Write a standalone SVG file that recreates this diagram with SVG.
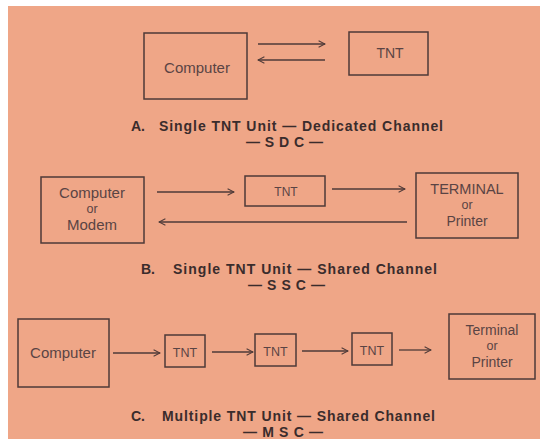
<svg xmlns="http://www.w3.org/2000/svg" width="540" height="439" viewBox="0 0 540 439">
<style>
.box{fill:none;stroke:#4e3a38;stroke-width:1.5}
.t{font-family:"Liberation Sans",Arial,sans-serif;font-size:15px;fill:#5a4444;text-anchor:middle}
.cap{font-family:"Liberation Sans",Arial,sans-serif;font-size:14px;font-weight:bold;fill:#3a2c2c}
.c{fill:none;stroke:#4e3a38;stroke-width:1.3}
</style>
<defs>
<marker id="ah" viewBox="0 0 10 10" refX="9" refY="5" markerWidth="8" markerHeight="8" markerUnits="userSpaceOnUse" orient="auto">
<path d="M1,1 L9,5 L1,9" fill="none" stroke="#4e3a38" stroke-width="1.3"/>
</marker>
</defs>
<rect x="0" y="0" width="540" height="439" fill="#ffffff"/>
<rect x="8" y="6" width="532" height="433" fill="#efa687"/>

<g id="a-computer"><rect class="box" x="144" y="33" width="103" height="66"/><text class="t" x="197" y="73">Computer</text></g>
<g id="a-tnt"><rect class="box" x="349" y="32" width="79" height="43"/><text class="t" x="390" y="58" style="font-size:14px">TNT</text></g>

<g id="b-computer"><rect class="box" x="41" y="177" width="103" height="66"/><text class="t" x="92" y="198">Computer</text><text class="t" x="92" y="213" style="font-size:12.5px">or</text><text class="t" x="92" y="230">Modem</text></g>
<g id="b-tnt"><rect class="box" x="245" y="176" width="80" height="30"/><text class="t" x="286" y="196" style="font-size:12px">TNT</text></g>
<g id="b-terminal"><rect class="box" x="416" y="173" width="102" height="65"/><text class="t" x="467" y="194" style="font-size:14.5px">TERMINAL</text><text class="t" x="467" y="209" style="font-size:12.5px">or</text><text class="t" x="467" y="226" style="font-size:14px">Printer</text></g>

<g id="c-computer"><rect class="box" x="18" y="319" width="91" height="68"/><text class="t" x="63" y="358">Computer</text></g>
<g id="c-tnt1"><rect class="box" x="165" y="335" width="40" height="32"/><text class="t" x="185" y="357" style="font-size:12.5px">TNT</text></g>
<g id="c-tnt2"><rect class="box" x="255" y="334" width="41" height="32"/><text class="t" x="275.5" y="356" style="font-size:12.5px">TNT</text></g>
<g id="c-tnt3"><rect class="box" x="352" y="333" width="40" height="32"/><text class="t" x="372" y="355" style="font-size:12.5px">TNT</text></g>
<g id="c-terminal"><rect class="box" x="449" y="314" width="86" height="65"/><text class="t" x="492" y="335" style="font-size:14px">Terminal</text><text class="t" x="492" y="350" style="font-size:12.5px">or</text><text class="t" x="492" y="367" style="font-size:14px">Printer</text></g>

<g id="connectors">
<line class="c" x1="258" y1="44" x2="325" y2="44" marker-end="url(#ah)"/>
<line class="c" x1="325" y1="60" x2="258" y2="60" marker-end="url(#ah)"/>
<line class="c" x1="157" y1="192" x2="234" y2="192" marker-end="url(#ah)"/>
<line class="c" x1="332" y1="189" x2="405" y2="189" marker-end="url(#ah)"/>
<line class="c" x1="407" y1="222" x2="159" y2="222" marker-end="url(#ah)"/>
<line class="c" x1="113" y1="353" x2="160" y2="353" marker-end="url(#ah)"/>
<line class="c" x1="212" y1="352" x2="253" y2="352" marker-end="url(#ah)"/>
<line class="c" x1="302" y1="351" x2="348" y2="351" marker-end="url(#ah)"/>
<line class="c" x1="399" y1="350" x2="431" y2="350" marker-end="url(#ah)"/>
</g>

<g id="captions">
<text class="cap" y="131"><tspan x="131">A.</tspan><tspan x="159" textLength="284" lengthAdjust="spacing">Single TNT Unit — Dedicated Channel</tspan></text>
<text class="cap" x="246" y="147" textLength="77" lengthAdjust="spacing">— S D C —</text>
<text class="cap" y="274"><tspan x="141">B.</tspan><tspan x="173" textLength="264" lengthAdjust="spacing">Single TNT Unit — Shared Channel</tspan></text>
<text class="cap" x="248" y="290" textLength="77" lengthAdjust="spacing">— S S C —</text>
<text class="cap" y="421"><tspan x="131">C.</tspan><tspan x="162" textLength="273" lengthAdjust="spacing">Multiple TNT Unit — Shared Channel</tspan></text>
<text class="cap" x="243" y="437" textLength="80" lengthAdjust="spacing">— M S C —</text>
</g>
</svg>
